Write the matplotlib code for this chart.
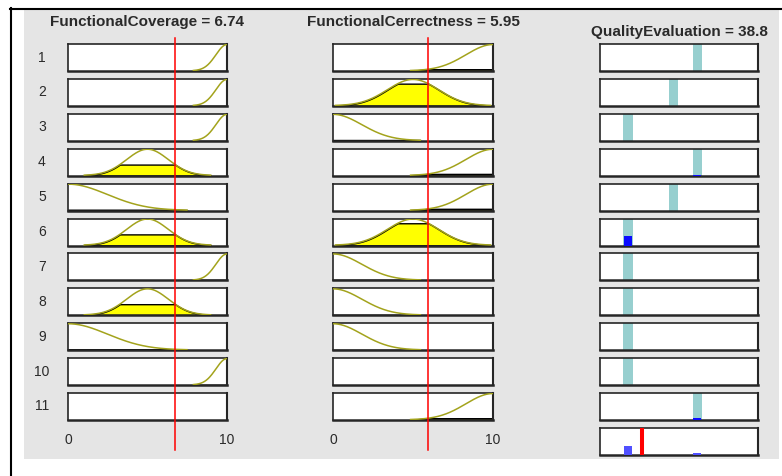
import numpy as np
import matplotlib
matplotlib.use('Agg')
import matplotlib.pyplot as plt
from matplotlib.lines import Line2D
from matplotlib.patches import Rectangle
import matplotlib.transforms as mtransforms

plt.rcParams['font.family'] = ['Liberation Sans', 'DejaVu Sans']

# ---------------- data ----------------
input_names = ['FunctionalCoverage', 'FunctionalCerrectness']
input_values = [6.74, 5.95]
input_range = [0, 10]
input_ticks = ['0', '10']
output_name = 'QualityEvaluation'
output_value = 38.8
output_range = [0, 146]

# gaussian membership functions: (sigma, center)
in1_mfs = {'Low': (2.47, 0.0), 'Medium': (1.31, 5.0), 'High': (0.70, 10.0)}
in2_mfs = {'Low': (1.80, 0.0), 'Medium': (1.60, 5.0), 'High': (1.70, 10.0)}
# singleton outputs
out_mfs = {'Poor': 26, 'Average': 68, 'Good': 90}

rule_in1 = ['High', 'High', 'High', 'Medium', 'Low', 'Medium', 'High', 'Medium', 'Low', 'High', None]
rule_in2 = ['High', 'Medium', 'Low', 'High', 'High', 'Medium', 'Low', 'Low', 'Low', None, 'High']
rule_out = ['Good', 'Average', 'Poor', 'Good', 'Average', 'Poor', 'Poor', 'Poor', 'Poor', 'Poor', 'Good']
rule_labels = [str(i + 1) for i in range(len(rule_out))]

# ---------------- layout ----------------
W, H = 782, 476
fig = plt.figure(figsize=(W / 100, H / 100), dpi=100, facecolor='white')

def rect(left, top, w, h):
    return [left / W, 1 - (top + h) / H, w / W, h / H]

fig.add_artist(Rectangle((24 / W, 1 - 459 / H), (779 - 24) / W, (459 - 10) / H,
                         transform=fig.transFigure, facecolor='#e5e5e5',
                         edgecolor='none', zorder=0))
fig.add_artist(Line2D([10 / W, 1.0], [1 - 8.5 / H, 1 - 8.5 / H], transform=fig.transFigure,
                      color='black', lw=1.5, zorder=1))
fig.add_artist(Line2D([10.5 / W, 10.5 / W], [1 - 8 / H, 0], transform=fig.transFigure,
                      color='black', lw=1.5, zorder=1))

col_left = [68, 333, 600]
col_w = [159, 160, 158]
row_top0 = 44
row_step = 34.9
row_h = 27

OLIVE = '#a3a31c'
CYAN = '#97cfcf'
BLUE = '#0a0aff'
TXT = '#2a2a2a'

def style(ax):
    ax.set_xticks([])
    ax.set_yticks([])
    ax.set_facecolor('white')
    for s in ax.spines.values():
        s.set_color('#262626')
        s.set_linewidth(1.2)
    ax.spines['bottom'].set_linewidth(1.8)
    ax.spines['right'].set_linewidth(1.5)

def gauss(x, p):
    s, c = p
    return np.exp(-(x - c) ** 2 / (2 * s ** 2))

x = np.linspace(input_range[0], input_range[1], 801)
mf_sets = [in1_mfs, in2_mfs]
rule_ins = [rule_in1, rule_in2]

n_rules = len(rule_out)
weights = np.ones(n_rules)
input_axes = [None, None]

for j in range(2):
    for i in range(n_rules):
        top = row_top0 + i * row_step
        ax = fig.add_axes(rect(col_left[j], top, col_w[j], row_h))
        style(ax)
        ax.set_xlim(input_range)
        ax.set_ylim(-0.01, 1.02)
        name = rule_ins[j][i]
        if name is not None:
            p = mf_sets[j][name]
            mf = gauss(x, p)
            mu = gauss(input_values[j], p)
            weights[i] *= mu
            m = mf >= 0.01
            ax.fill_between(x[m], 0, np.minimum(mf, mu)[m], facecolor='#ffff00',
                            edgecolor='black', lw=1.0, zorder=2)
            ax.plot(x[m], mf[m], color=OLIVE, lw=1.1, zorder=3)
        input_axes[j] = ax
    # red input line across the whole column
    trans = mtransforms.blended_transform_factory(input_axes[j].transData, fig.transFigure)
    fig.add_artist(Line2D([input_values[j], input_values[j]], [1 - 450 / H, 1 - 38 / H],
                          transform=trans, color='#ff0000', lw=1.1, zorder=10))
    # titles and ticks
    cx = col_left[j] + col_w[j] / 2
    fig.text(cx / W, 1 - 22 / H, f'{input_names[j]} = {input_values[j]:g}',
             ha='center', va='center', fontsize=11, fontweight='bold', color=TXT)
    fig.text(col_left[j] / W, 1 - 440 / H, input_ticks[0], ha='center', va='center',
             fontsize=10, color=TXT)
    fig.text((col_left[j] + col_w[j]) / W, 1 - 440 / H, input_ticks[1], ha='center',
             va='center', fontsize=10, color=TXT)

# output column
bar_w = 8.8
blue_w = 7.4
for i in range(n_rules):
    top = row_top0 + i * row_step
    ax = fig.add_axes(rect(col_left[2], top, col_w[2], row_h))
    style(ax)
    ax.set_xlim(output_range)
    ax.set_ylim(0, 1.0)
    z = out_mfs[rule_out[i]]
    ax.bar([z], [1.0], width=bar_w, color=CYAN, zorder=2)
    if weights[i] > 0.003:
        ax.bar([z], [weights[i]], width=blue_w, color=BLUE, zorder=3)
    fig.text(42 / W, 1 - (top + row_h / 2) / H, rule_labels[i], ha='center', va='center',
             fontsize=10, color=TXT)

# aggregate row
top = row_top0 + n_rules * row_step
ax = fig.add_axes(rect(col_left[2], top, col_w[2], row_h))
style(ax)
ax.set_xlim(output_range)
ax.set_ylim(0, 1.0)
zs = sorted(set(out_mfs[r] for r in rule_out))
for z in zs:
    wmax = max(weights[i] for i in range(n_rules) if out_mfs[rule_out[i]] == z)
    if wmax > 0.003:
        ax.bar([z], [wmax], width=blue_w, color='#5050ff', zorder=3)
ax.axvline(output_value, color='#ff0000', lw=2.9, zorder=4)
fig.text((col_left[2] + col_w[2] / 2) / W, 1 - 32 / H, f'{output_name} = {output_value:g}',
         ha='center', va='center', fontsize=11, fontweight='bold', color=TXT)

fig.savefig('out.png', dpi=100, facecolor='white')
